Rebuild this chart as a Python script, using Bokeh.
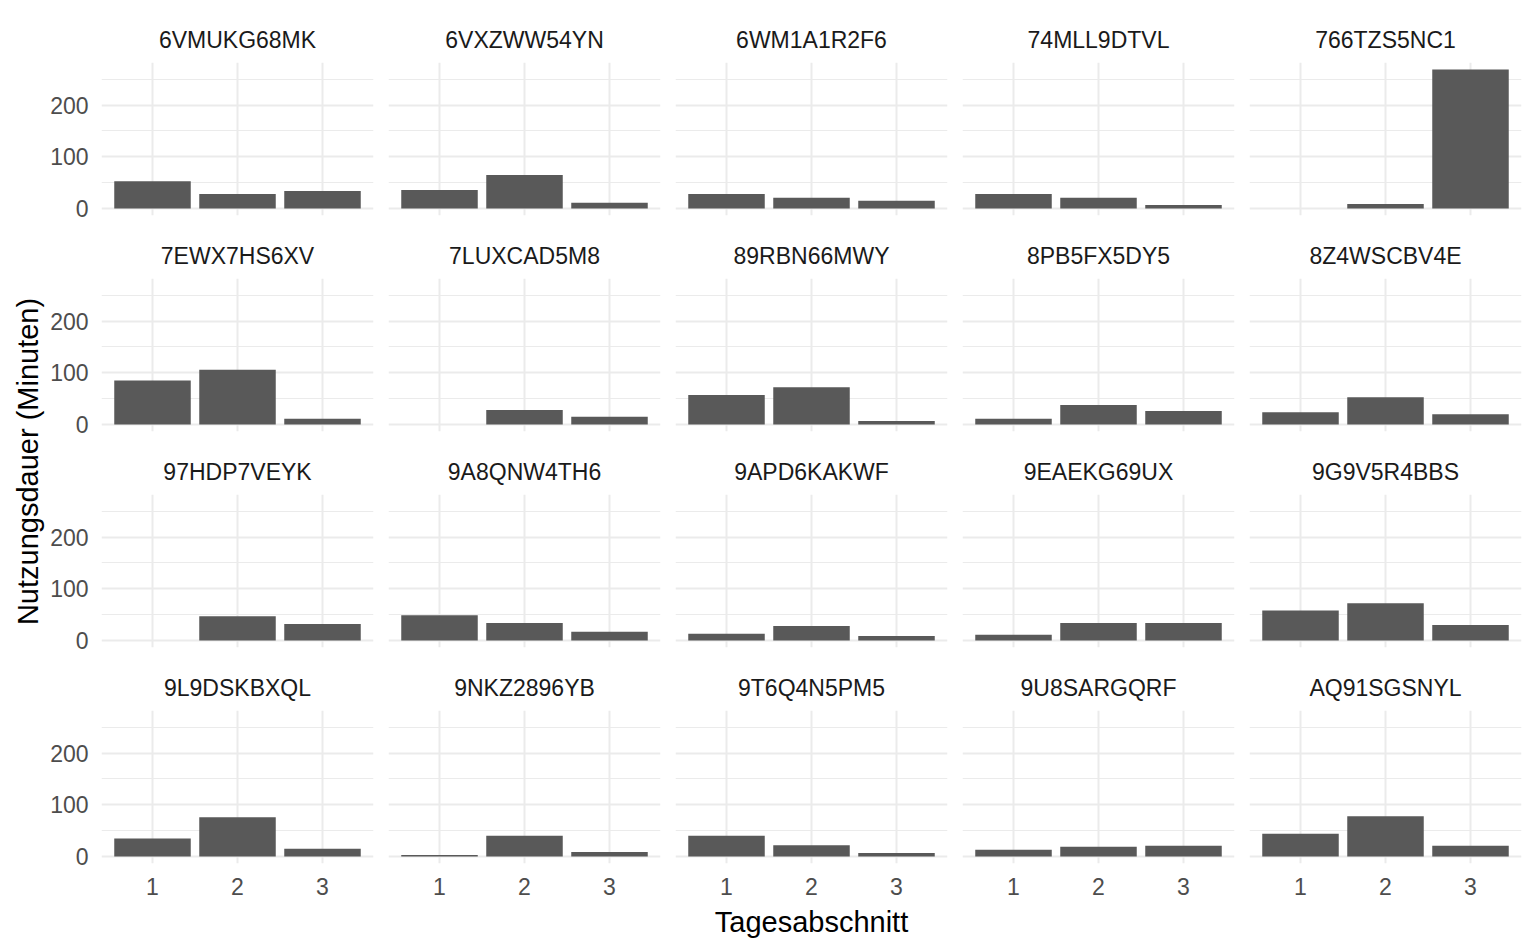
from bokeh.plotting import figure
from bokeh.models import Range1d, FixedTicker, Grid, LinearAxis, Label, ColumnDataSource
from bokeh.layouts import row, column
from bokeh.embed import file_html
from bokeh.resources import INLINE
import math

names = ["6VMUKG68MK", "6VXZWW54YN", "6WM1A1R2F6", "74MLL9DTVL", "766TZS5NC1",
         "7EWX7HS6XV", "7LUXCAD5M8", "89RBN66MWY", "8PB5FX5DY5", "8Z4WSCBV4E",
         "97HDP7VEYK", "9A8QNW4TH6", "9APD6KAKWF", "9EAEKG69UX", "9G9V5R4BBS",
         "9L9DSKBXQL", "9NKZ2896YB", "9T6Q4N5PM5", "9U8SARGQRF", "AQ91SGSNYL"]
periods = [1, 2, 3]
period1 = [53, 36, 28, 28, None, 85, None, 57, 11, 24, None, 49, 13, 11, 58, 35, 3, 40, 13, 44]
period2 = [28, 65, 21, 21, 9, 106, 28, 72, 38, 53, 47, 34, 28, 34, 72, 76, 40, 22, 19, 78]
period3 = [34, 11, 15, 7, 269, 11, 15, 7, 26, 20, 32, 17, 9, 34, 30, 15, 9, 7, 21, 21]
y_ticks = [0, 100, 200]
y_minor = [50, 150, 250]
x_title = "Tagesabschnitt"
y_title = "Nutzungsdauer (Minuten)"

FONT = "Liberation Sans"
GRID = "#EBEBEB"
BAR = "#595959"

ymax = max(v for v in period1 + period2 + period3 if v is not None)
ypad = ymax * 0.05

FW, FH = 272, 153
LEFT_W = 47
NCOL, NROW = 5, 4
TOP0 = 62
GAP_BOTTOM = 12
GAP_TOP = 63 - GAP_BOTTOM
LAST_BOTTOM = 41


def blank(p):
    p.center = []
    p.outline_line_color = None
    p.background_fill_color = "white"
    p.border_fill_color = "white"


rows = []
for r in range(NROW):
    figs = []
    for c in range(NCOL):
        i = r * NCOL + c
        vals = [period1[i], period2[i], period3[i]]
        xs = [p for p, v in zip(periods, vals) if v is not None]
        ys = [v for v in vals if v is not None]
        p = figure(frame_width=FW, frame_height=FH,
                   x_range=Range1d(0.4, 3.6), y_range=Range1d(-ypad, ymax + ypad),
                   x_axis_location=None, y_axis_location=None,
                   toolbar_location=None, output_backend="svg",
                   min_border=0)
        blank(p)
        p.min_border_left = 53 if c == 0 else 0
        p.min_border_right = 15 if c < NCOL - 1 else 9
        p.min_border_top = TOP0 if r == 0 else GAP_TOP
        p.min_border_bottom = LAST_BOTTOM if r == NROW - 1 else GAP_BOTTOM
        p.title.text = names[i]
        p.title.align = "center"
        p.title.text_font = FONT
        p.title.text_font_size = "23px"
        p.title.text_font_style = "normal"
        p.title.text_color = "#1A1A1A"
        p.title.standoff = 19

        p.add_layout(Grid(dimension=0, ticker=FixedTicker(ticks=periods),
                          grid_line_color=GRID, grid_line_width=2))
        p.add_layout(Grid(dimension=1, ticker=FixedTicker(ticks=y_ticks, minor_ticks=y_minor),
                          grid_line_color=GRID, grid_line_width=2,
                          minor_grid_line_color=GRID, minor_grid_line_width=1.2))

        src = ColumnDataSource(data=dict(x=xs, top=ys))
        p.vbar(x="x", top="top", bottom=0, width=0.9, source=src,
               fill_color=BAR, line_color=None)

        if c == 0:
            ya = LinearAxis(ticker=FixedTicker(ticks=y_ticks))
            ya.axis_line_color = None
            ya.major_tick_line_color = None
            ya.minor_tick_line_color = None
            ya.major_tick_out = 0
            ya.major_tick_in = 0
            ya.major_label_standoff = 13
            ya.major_label_text_font = FONT
            ya.major_label_text_font_size = "23px"
            ya.major_label_text_color = "#4D4D4D"
            p.add_layout(ya, "left")
        if r == NROW - 1:
            xa = LinearAxis(ticker=FixedTicker(ticks=periods))
            xa.axis_line_color = None
            xa.major_tick_line_color = None
            xa.minor_tick_line_color = None
            xa.major_tick_out = 0
            xa.major_tick_in = 0
            xa.major_label_standoff = 14
            xa.major_label_text_font = FONT
            xa.major_label_text_font_size = "23px"
            xa.major_label_text_color = "#4D4D4D"
            p.add_layout(xa, "below")
        figs.append(p)
    rows.append(row(*figs, spacing=0))

grid_w = (53 + FW + 15) + (FW + 15) * (NCOL - 2) + (FW + 9)
grid_h = (TOP0 + FH + GAP_BOTTOM) + (GAP_TOP + FH + GAP_BOTTOM) * (NROW - 2) + (GAP_TOP + FH + LAST_BOTTOM)
XL_H = 40
grid_bottom = grid_h

xlab = figure(width=grid_w, height=XL_H, x_range=Range1d(0, 1), y_range=Range1d(0, 1),
              x_axis_location=None, y_axis_location=None, toolbar_location=None,
              output_backend="svg", min_border=0)
blank(xlab)
xlab.add_layout(Label(x=(811 - LEFT_W) / grid_w, y=1 - (921.5 - grid_bottom) / XL_H, text=x_title,
                      text_font=FONT, text_font_size="29px", text_color="black",
                      text_align="center", text_baseline="middle"))

total_h = grid_h + XL_H
ylab = figure(width=LEFT_W, height=total_h, x_range=Range1d(0, 1), y_range=Range1d(0, 1),
              x_axis_location=None, y_axis_location=None, toolbar_location=None,
              output_backend="svg", min_border=0)
blank(ylab)
ylab.add_layout(Label(x=27 / LEFT_W, y=1 - 461 / total_h, text=y_title, angle=math.pi / 2,
                      text_font=FONT, text_font_size="29px", text_color="black",
                      text_align="center", text_baseline="middle"))

layout = row(ylab, column(column(*rows, spacing=0), xlab, spacing=0), spacing=0)

open("out.html", "w").write(file_html(layout, INLINE))
